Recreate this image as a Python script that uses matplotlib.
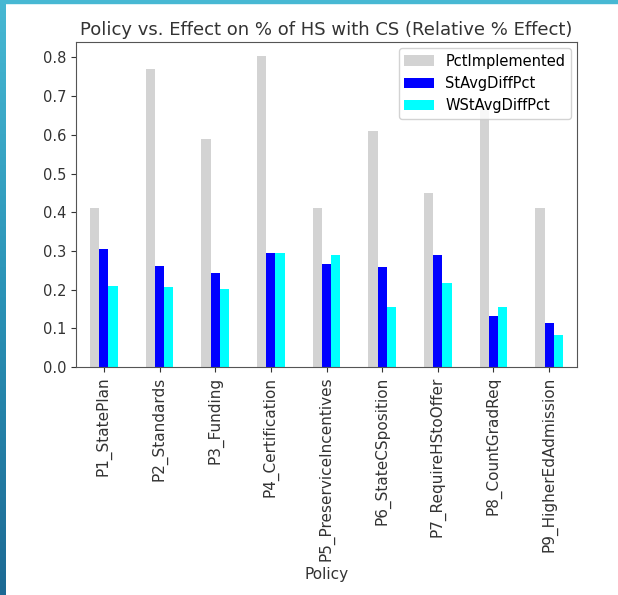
import matplotlib
matplotlib.use("Agg")
import matplotlib.pyplot as plt
import numpy as np
import pandas as pd

# values
policies = ["P1_StatePlan", "P2_Standards", "P3_Funding", "P4_Certification",
            "P5_PreserviceIncentives", "P6_StateCSposition", "P7_RequireHStoOffer",
            "P8_CountGradReq", "P9_HigherEdAdmission"]
pct_implemented = [0.41, 0.77, 0.59, 0.805, 0.41, 0.61, 0.45, 0.68, 0.41]
st_avg_diff = [0.305, 0.262, 0.242, 0.295, 0.265, 0.258, 0.29, 0.133, 0.113]
wst_avg_diff = [0.21, 0.206, 0.201, 0.295, 0.289, 0.155, 0.218, 0.155, 0.082]

df = pd.DataFrame({"PctImplemented": pct_implemented,
                   "StAvgDiffPct": st_avg_diff,
                   "WStAvgDiffPct": wst_avg_diff},
                  index=pd.Index(policies, name="Policy"))

fig = plt.figure(figsize=(6.18, 5.95), dpi=100)

# slide decoration: gradient strip on the left, thin band on top
strip = fig.add_axes([0, 0, 6 / 618, 1])
grad = np.linspace(0, 1, 256).reshape(-1, 1)
cmap = matplotlib.colors.LinearSegmentedColormap.from_list("s", ["#47b8d3", "#2a92b6", "#1d6a94"])
strip.imshow(grad, aspect="auto", cmap=cmap)
strip.axis("off")
fig.patches.append(plt.Rectangle((0, 1 - 3 / 595), 1, 3 / 595, transform=fig.transFigure,
                                 color="#47b8d3", zorder=0))

ax = fig.add_axes([76 / 618, 1 - 367 / 595, 501 / 618, 325 / 595])
df.plot.bar(ax=ax, color=["lightgray", "blue", "cyan"])

ax.set_title("Policy vs. Effect on % of HS with CS (Relative % Effect)", fontsize=13,
             color="#333333", pad=5)
ax.set_xlabel("Policy", fontsize=11, color="#333333")
ax.set_ylim(0, 0.84)
ax.set_yticks(np.arange(0, 0.81, 0.1))
ax.tick_params(axis="y", labelsize=10.5, colors="#333333")
ax.tick_params(axis="x", labelsize=11, colors="#333333")
for s in ax.spines.values():
    s.set_color("#555555")
ax.legend(loc="upper right", fontsize=10.5, framealpha=0.85, borderaxespad=0.4)

plt.savefig("out.png", dpi=100)
plt.close()
